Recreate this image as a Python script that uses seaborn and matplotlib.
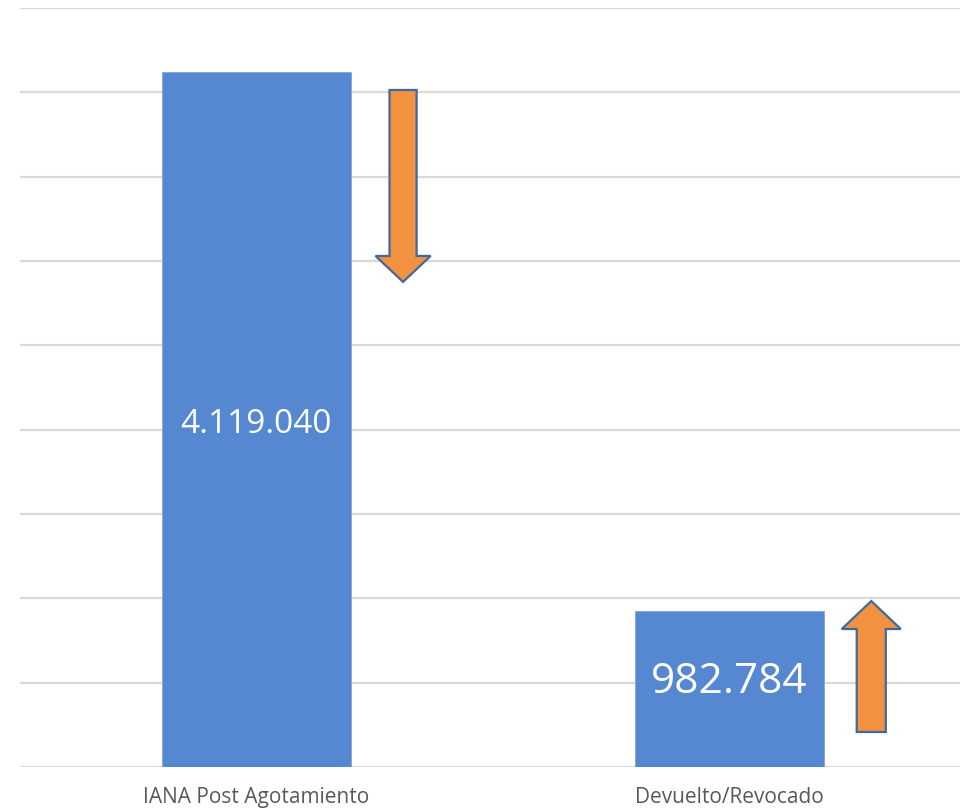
import matplotlib
matplotlib.use("Agg")
import matplotlib.pyplot as plt
import seaborn as sns
import pandas as pd
from matplotlib.patches import FancyArrow

# datos
categorias = ['IANA Post Agotamiento', 'Devuelto/Revocado']
valores = [4119040, 925000]
etiquetas = ['4.119.040', '982.784']

# flechas: (x centro, y inicio, y fin)
flecha_baja = (0.31, 4014000, 2876000)
flecha_sube = (1.30, 207500, 984000)

sns.set_theme(style='white')
plt.rcParams['font.family'] = ['Open Sans', 'DejaVu Sans']

df = pd.DataFrame({'categoria': categorias, 'valor': valores})

fig = plt.figure(figsize=(9.6, 8.12), dpi=100)
ax = fig.add_axes([20/960, 44/812, 943/960, 759/812])

sns.barplot(data=df, x='categoria', y='valor', color='#5588D0', saturation=1,
            width=0.4, ax=ax, edgecolor='#7FA5DD', linewidth=0.6, zorder=3)

ax.set_ylim(0, 4500000)
ax.set_xlim(-0.5, 1.494)
ax.set_yticks(range(0, 4500001, 500000))
ax.yaxis.grid(True, color='#D9D9D9', linewidth=1.6, zorder=0)
ax.set_axisbelow(True)
for s in ax.spines.values():
    s.set_visible(False)
ax.set_yticklabels([])
ax.tick_params(axis='y', length=0)
ax.tick_params(axis='x', length=0, pad=14, labelsize=15, labelcolor='#595959')
ax.set_xlabel('')
ax.set_ylabel('')

# etiquetas de datos
tamanos = [24, 30.5]
desplaz = [-3, 6]
for i, (v, t) in enumerate(zip(valores, etiquetas)):
    ax.annotate(t, (i, v / 2), xytext=(0, desplaz[i]), textcoords='offset points',
                ha='center', va='center', color='white', fontsize=tamanos[i], zorder=5)

# flechas naranjas
for (x, y0, y1), ancho, cabeza, largo_cab in [
        (flecha_baja, 0.0573, 0.1166, 154000),
        (flecha_sube, 0.0615, 0.125, 166000)]:
    ar = FancyArrow(x, y0, 0, y1 - y0, width=ancho, head_width=cabeza,
                    head_length=largo_cab, length_includes_head=True,
                    facecolor='#F2913F', edgecolor='#41689E', linewidth=1.6, zorder=6)
    ax.add_patch(ar)

fig.savefig('out.png', dpi=100)
